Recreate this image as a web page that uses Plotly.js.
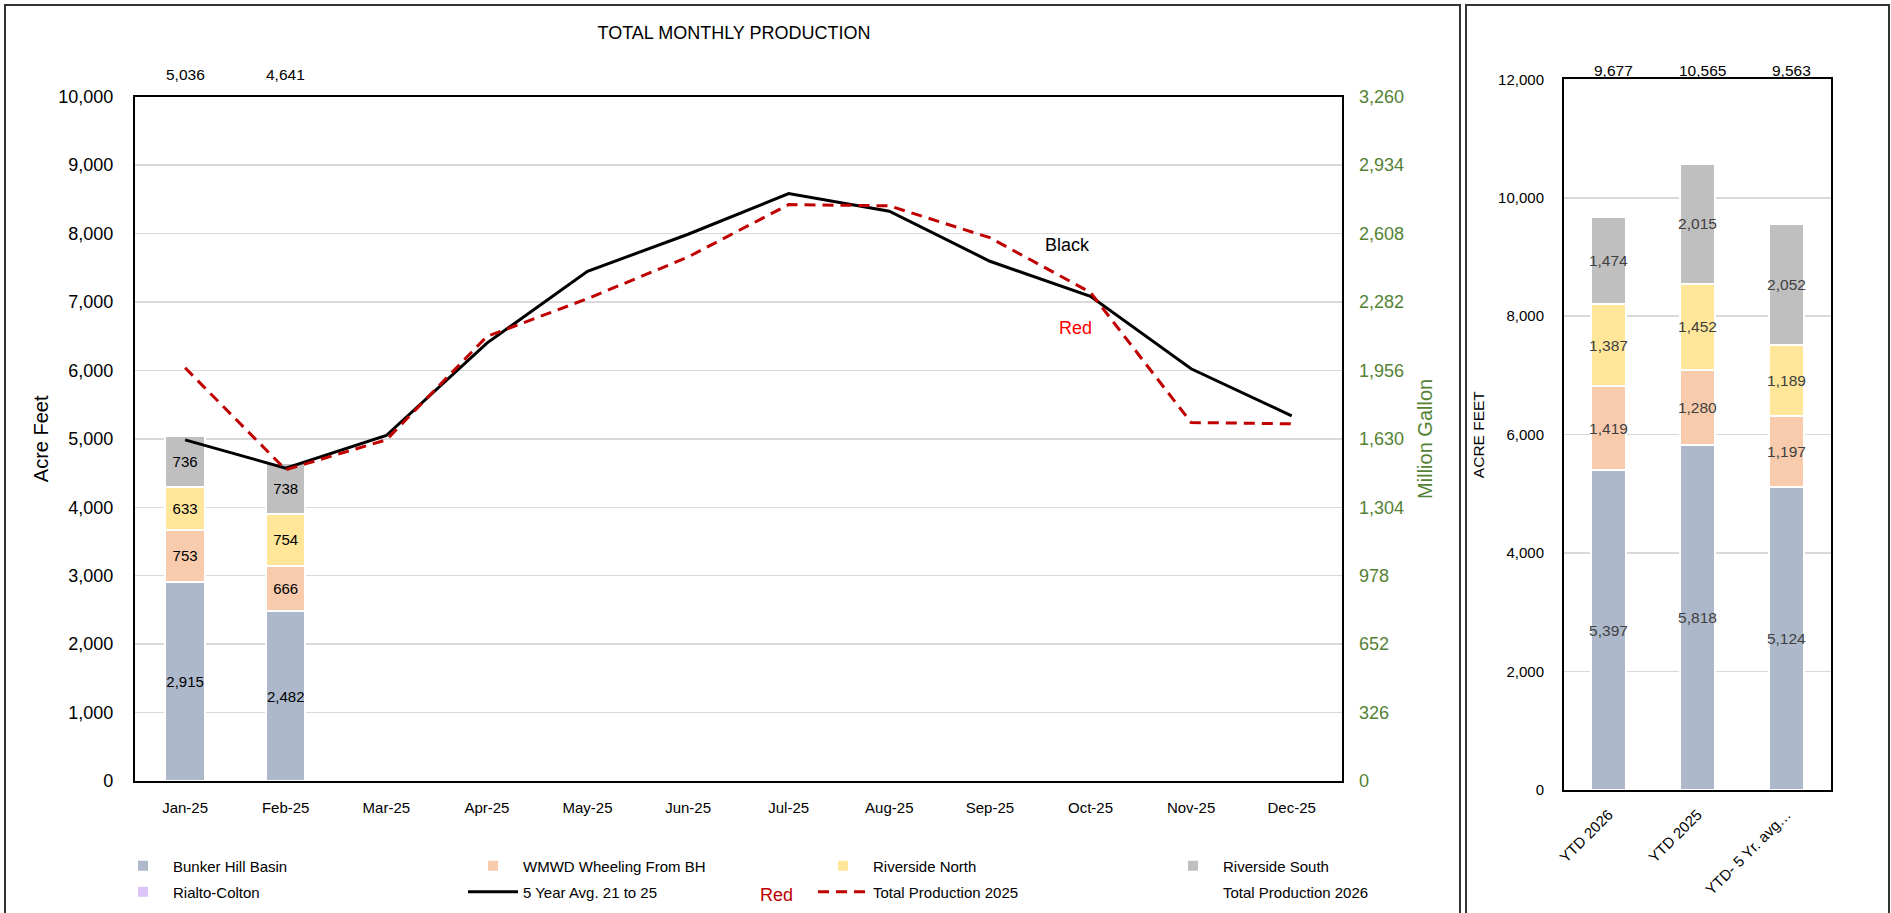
<!DOCTYPE html>
<html>
<head>
<meta charset="utf-8">
<script src="https://cdn.plot.ly/plotly-3.0.1.min.js"></script>
<style>
html,body{margin:0;padding:0;background:#fff;}
#chart{width:1891px;height:913px;}
</style>
</head>
<body>
<div id="chart"></div>
<script>
// ---- Data: monthly chart ----
const months = ['Jan-25','Feb-25','Mar-25','Apr-25','May-25','Jun-25','Jul-25','Aug-25','Sep-25','Oct-25','Nov-25','Dec-25'];
const bunkerHill = [2915, 2482];
const wmwdWheeling = [753, 666];
const riversideNorth = [633, 754];
const riversideSouth = [736, 738];
const rialtoColton = [0, 0];
const avg5yr = [4985, 4573, 5049, 6399, 7448, 7990, 8585, 8327, 7595, 7083, 6024, 5337];
const total2025 = [6038, 4549, 4985, 6496, 7049, 7657, 8424, 8405, 7940, 7140, 5239, 5220];
const total2026 = [5036, 4641];
const mgTicks = [0, 326, 652, 978, 1304, 1630, 1956, 2282, 2608, 2934, 3260];

// ---- Data: YTD chart ----
const ytdCats = ['YTD 2026', 'YTD 2025', 'YTD- 5 Yr. avg…'];
const ytdBunker = [5397, 5818, 5124];
const ytdWmwd = [1419, 1280, 1197];
const ytdRivN = [1387, 1452, 1189];
const ytdRivS = [1474, 2015, 2052];
const ytdRialto = [0, 0, 1];
const ytdTotals = [9677, 10565, 9563];

const seriesNames = ['Bunker Hill Basin', 'WMWD Wheeling From BH', 'Riverside North', 'Riverside South', 'Rialto-Colton'];
const seriesColors = ['#ADB9CA', '#F8CBAD', '#FFE699', '#BFBFBF', '#DCC4F8'];

const W = 1891, H = 913;
const px = v => v / W;
const py = v => 1 - v / H;
const FONT = 'Liberation Sans, Arial, sans-serif';

const monthly = [bunkerHill, wmwdWheeling, riversideNorth, riversideSouth, rialtoColton];
const ytd = [ytdBunker, ytdWmwd, ytdRivN, ytdRivS, ytdRialto];

const traces = [];
monthly.forEach((vals, i) => {
  traces.push({
    type: 'bar', name: seriesNames[i], x: months.slice(0, vals.length), y: vals,
    xaxis: 'x', yaxis: 'y',
    marker: {color: seriesColors[i], line: {color: '#FFFFFF', width: 2}},
    text: vals.map(v => v > 0 ? v.toLocaleString('en-US') : ''),
    textposition: 'inside', insidetextanchor: 'middle', constraintext: 'none', textangle: 0,
    textfont: {family: FONT, size: 15, color: '#000000'},
    legend: i < 4 ? 'legend' : 'legend2', hoverinfo: 'x+y+name'
  });
});
traces.push({
  type: 'scatter', mode: 'lines', name: '5 Year Avg. 21 to 25', x: months, y: avg5yr,
  xaxis: 'x', yaxis: 'y', line: {color: '#000000', width: 3}, legend: 'legend2'
});
traces.push({
  type: 'scatter', mode: 'lines', name: 'Total Production 2025', x: months, y: total2025,
  xaxis: 'x', yaxis: 'y', line: {color: '#C00000', width: 3, dash: '11px,7px'}, legend: 'legend2'
});
traces.push({
  type: 'scatter', mode: 'lines', name: 'Total Production 2026', x: months.slice(0, total2026.length), y: total2026,
  xaxis: 'x', yaxis: 'y', line: {color: 'rgba(0,0,0,0)', width: 0}, legend: 'legend2'
});
// dummy trace to activate Million Gallon axis
traces.push({
  type: 'scatter', mode: 'lines', x: months, y: months.map(() => null), xaxis: 'x', yaxis: 'y2',
  showlegend: false, hoverinfo: 'skip'
});
ytd.forEach((vals, i) => {
  traces.push({
    type: 'bar', name: seriesNames[i], x: ytdCats, y: vals,
    xaxis: 'x2', yaxis: 'y3', showlegend: false,
    marker: {color: seriesColors[i], line: {color: '#FFFFFF', width: 2}},
    text: vals.map(v => v > 10 ? v.toLocaleString('en-US') : ''),
    textposition: 'inside', insidetextanchor: 'middle', constraintext: 'none', textangle: 0,
    textfont: {family: FONT, size: 15.5, color: '#404040'}
  });
});

const annotations = [];
total2026.forEach((v, i) => {
  annotations.push({xref: 'x', yref: 'paper', x: months[i], y: py(75), text: v.toLocaleString('en-US'),
    showarrow: false, font: {family: FONT, size: 15.5, color: '#000'}, xanchor: 'center', yanchor: 'middle'});
});
ytdTotals.forEach((v, i) => {
  annotations.push({xref: 'x2', yref: 'paper', x: ytdCats[i], y: py(71), text: v.toLocaleString('en-US'),
    showarrow: false, font: {family: FONT, size: 15.5, color: '#000'}, xanchor: 'center', yanchor: 'middle', xshift: 5});
});
annotations.push({xref: 'paper', yref: 'paper', x: px(1067), y: py(245), text: 'Black', showarrow: false,
  font: {family: FONT, size: 18, color: '#000'}, xanchor: 'center', yanchor: 'middle'});
annotations.push({xref: 'paper', yref: 'paper', x: px(1075), y: py(328), text: 'Red', showarrow: false,
  font: {family: FONT, size: 18, color: '#FF0000'}, xanchor: 'center', yanchor: 'middle'});
annotations.push({xref: 'paper', yref: 'paper', x: px(776), y: py(895), text: 'Red', showarrow: false,
  font: {family: FONT, size: 18, color: '#C00000'}, xanchor: 'center', yanchor: 'middle'});

const gridc = '#D9D9D9';
const legendCommon = {orientation: 'h', xanchor: 'left', yanchor: 'middle', entrywidth: 285, itemwidth: 50,
  traceorder: 'normal', font: {family: FONT, size: 15, color: '#000'}, bgcolor: 'rgba(0,0,0,0)', borderwidth: 0};
const layout = {
  width: W, height: H,
  margin: {l: 0, r: 0, t: 0, b: 0, pad: 0},
  paper_bgcolor: '#FFFFFF', plot_bgcolor: '#FFFFFF',
  font: {family: FONT, color: '#000'},
  barmode: 'stack', bargap: 0.61,
  title: {text: 'TOTAL MONTHLY PRODUCTION', x: px(734), y: py(33), xanchor: 'center', yanchor: 'middle',
    xref: 'paper', yref: 'paper', font: {family: FONT, size: 18, color: '#000'}},
  xaxis: {domain: [px(134.8), px(1342)], anchor: 'y', type: 'category', categoryarray: months, categoryorder: 'array',
    range: [-0.5, 11.5], showline: true, mirror: true, linecolor: '#000', linewidth: 2, showgrid: false,
    ticks: '', ticklabelstandoff: 12, tickfont: {family: FONT, size: 15, color: '#000'}, fixedrange: true},
  yaxis: {domain: [py(781), py(96.7)], anchor: 'x', range: [0, 10000], dtick: 1000, tickformat: ',d',
    showline: true, mirror: true, linecolor: '#000', linewidth: 2, gridcolor: gridc, gridwidth: 1.5, zeroline: false,
    ticks: '', ticklabelstandoff: 16, tickfont: {family: FONT, size: 18, color: '#000'},
    title: {text: 'Acre Feet', font: {family: FONT, size: 20, color: '#000'}, standoff: 4}, fixedrange: true},
  yaxis2: {overlaying: 'y', side: 'right', anchor: 'x', range: [0, 3260], tickvals: mgTicks, tickformat: ',d',
    showgrid: false, zeroline: false, showline: false, ticks: '', ticklabelstandoff: 16,
    tickfont: {family: FONT, size: 18, color: '#548235'},
    title: {text: 'Million Gallon', font: {family: FONT, size: 20, color: '#548235'}, standoff: 14}, fixedrange: true},
  xaxis2: {domain: [px(1564), px(1831)], anchor: 'y3', type: 'category', showline: true, mirror: true,
    linecolor: '#000', linewidth: 2, showgrid: false, ticks: '', tickangle: -45, ticklabelstandoff: 8,
    tickfont: {family: FONT, size: 15, color: '#000'}, fixedrange: true},
  yaxis3: {domain: [py(790), py(79.3)], anchor: 'x2', range: [0, 12000], dtick: 2000, tickformat: ',d',
    showline: true, mirror: true, linecolor: '#000', linewidth: 2, gridcolor: gridc, gridwidth: 1.5, zeroline: false,
    ticks: '', ticklabelstandoff: 15, tickfont: {family: FONT, size: 15, color: '#000'},
    title: {text: 'ACRE FEET', font: {family: FONT, size: 15.5, color: '#000'}, standoff: 10}, fixedrange: true},
  legend: Object.assign({}, legendCommon, {x: px(113), y: py(866)}),
  legend2: Object.assign({}, legendCommon, {x: px(113), y: py(892)}),
  annotations: annotations,
  shapes: [
    {type: 'rect', xref: 'paper', yref: 'paper', x0: px(5), x1: px(1460), y0: -0.05, y1: py(5),
      line: {color: '#333', width: 2}, fillcolor: 'rgba(0,0,0,0)'},
    {type: 'rect', xref: 'paper', yref: 'paper', x0: px(1466), x1: px(1889), y0: -0.05, y1: py(5),
      line: {color: '#333', width: 2}, fillcolor: 'rgba(0,0,0,0)'}
  ]
};

Plotly.newPlot('chart', traces, layout, {displayModeBar: false, staticPlot: true});
</script>
</body>
</html>
